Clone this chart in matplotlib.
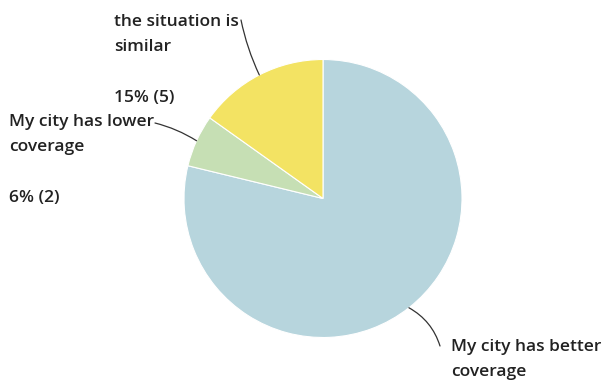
import numpy as np
import matplotlib.pyplot as plt

# Survey answers, counts per option
labels = ['My city has better\ncoverage', 'My city has lower\ncoverage', 'the situation is\nsimilar']
counts = [26, 2, 5]
pct_labels = ['', '6% (2)', '15% (5)']
colors = ['#b7d5dd', '#c6dfb4', '#f3e363']

W, H = 603, 383
fig = plt.figure(figsize=(W / 100, H / 100), dpi=100)
ax = fig.add_axes([0, 0, 1, 1])

cx, cy, r = 323, H - 198.5, 139
wedges, _ = ax.pie(counts, colors=colors, startangle=90, counterclock=False,
                   center=(cx, cy), radius=r, frame=True,
                   wedgeprops=dict(edgecolor='white', linewidth=0.8))
ax.set_xlim(0, W)
ax.set_ylim(0, H)
ax.set_aspect('equal')
ax.axis('off')

font = dict(family='Open Sans', weight='semibold', fontsize=12.5, color='#222222',
            linespacing=1.72)

# label anchor (top-left, px from top), leader end point, curvature
label_pos = [(451, 339), (9, 114), (114, 14)]
pct_pos = [None, (9, 190), (114, 90)]
leader_end = [(440, 346), (155, 123), (241, 20)]
leader_rad = [0.2, -0.08, 0.06]

for w, lab, pl, lp, pp, le, rad in zip(wedges, labels, pct_labels, label_pos,
                                       pct_pos, leader_end, leader_rad):
    mid = np.deg2rad((w.theta1 + w.theta2) / 2)
    edge = (cx + r * np.cos(mid), cy + r * np.sin(mid))
    ax.annotate('', xy=edge, xytext=(le[0], H - le[1]),
                arrowprops=dict(arrowstyle='-', color='#333333', lw=0.9,
                                shrinkA=0, shrinkB=0,
                                connectionstyle=f'arc3,rad={rad}'))
    ax.text(lp[0], H - lp[1], lab, ha='left', va='top', **font)
    if pp is not None:
        ax.text(pp[0], H - pp[1], pl, ha='left', va='top', **font)

fig.savefig('out.png', dpi=100)
